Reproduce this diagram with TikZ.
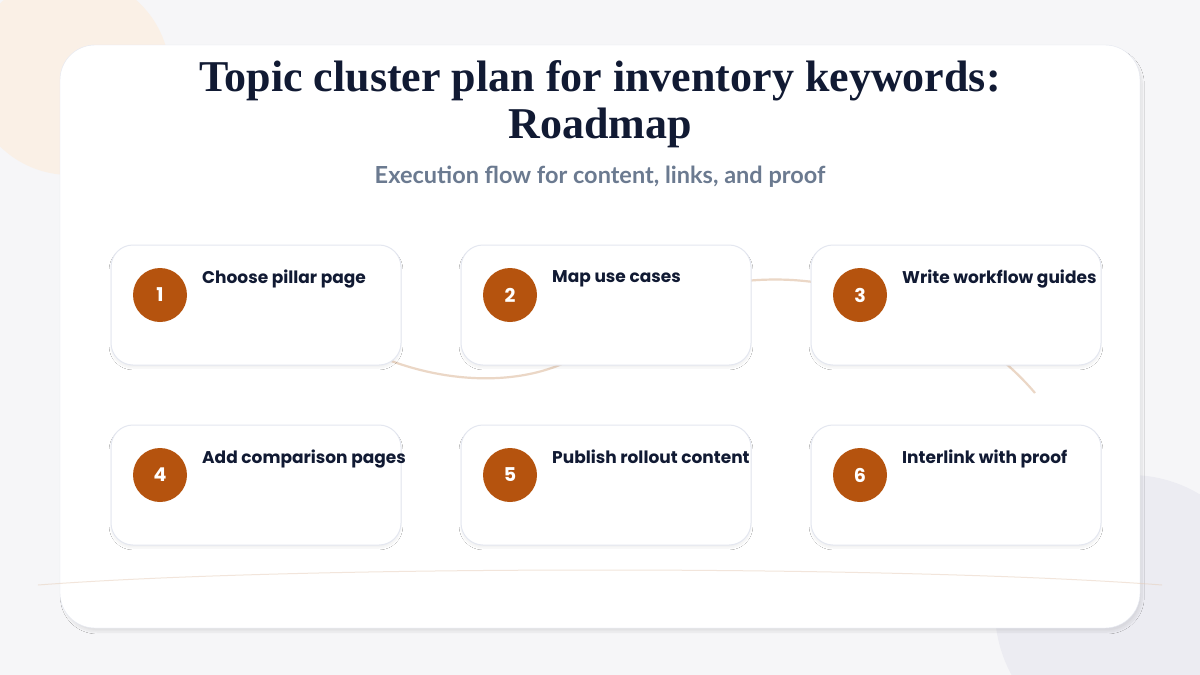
\documentclass[tikz,border=0pt]{standalone}
\usepackage{fontspec}
\setmainfont{Liberation Serif}
\newfontfamily\labfont{Poppins}
\newfontfamily\subfont{Lato}
\usetikzlibrary{shadows.blur}
\definecolor{navy}{HTML}{111A33}
\definecolor{subc}{HTML}{6B7A90}
\definecolor{badge}{HTML}{B5530E}
\definecolor{tan}{HTML}{E6CDB8}
\definecolor{edge}{HTML}{E4E7F0}
\definecolor{bgc}{HTML}{F6F6F8}
\definecolor{peach}{HTML}{FAF0E6}
\definecolor{greyc}{HTML}{ECECF2}
\definecolor{peach2}{HTML}{FAF4EE}
\tikzset{
 box/.style={draw=edge,line width=1pt,fill=white,rounded corners=22pt,minimum width=290pt,minimum height=120pt,blur shadow={shadow blur steps=8,shadow xshift=0pt,shadow yshift=-3pt,shadow opacity=6}},
 num/.style={circle,fill=badge,minimum size=54pt,inner sep=0pt,text=white,font=\labfont\bfseries\fontsize{19}{19}\selectfont},
 lab/.style={anchor=north west,inner sep=0pt,text=navy,font=\labfont\bfseries\fontsize{17}{17}\selectfont},
 conn/.style={draw=tan,line width=2.2pt,opacity=.8}
}
\begin{document}
\begin{tikzpicture}[x=1pt,y=-1pt]
\useasboundingbox (0,0) rectangle (1200,675);
\fill[bgc] (0,0) rectangle (1200,675);
\fill[peach] (70,75) circle (100);
\fill[greyc] (1130,610) circle (135);
\fill[peach2] (960,120) circle (65);
\node[draw=edge,fill=white,rounded corners=35pt,minimum width=1080pt,minimum height=583pt,blur shadow={shadow blur steps=10,shadow yshift=-4pt,shadow opacity=8}] (card) at (600,336.5) {};
\draw[tan,line width=1pt,opacity=.5] (38,585) .. controls (300,565) and (900,565) .. (1162,585);
\node[font=\bfseries\fontsize{44}{47}\selectfont,text=navy,align=center] (title) at (600,104) {Topic cluster plan for inventory keywords:\\Roadmap};
\node[font=\subfont\bfseries\fontsize{23.5}{24}\selectfont,text=subc] (sub) at (600,177) {Execution flow for content, links, and proof};
\coordinate (c0) at (330,330);
\coordinate (c1) at (1035,393);
\draw[conn] (c0) .. controls (420,390) and (540,395) .. (600,340) .. controls (660,285) and (760,270) .. (830,285) .. controls (920,300) and (990,340) .. (c1);
\foreach \i/\x/\y/\t in {1/256/305/Choose pillar page,2/606/305/Map use cases,3/956/305/Write workflow guides,4/256/485/Add comparison pages,5/606/485/Publish rollout content,6/956/485/Interlink with proof}{
 \node[box] (b\i) at (\x,\y) {};
 \node[num] (n\i) at ([xshift=-96pt,yshift=10pt]b\i.center) {\i};
 \node[lab] (l\i) at ([xshift=-54pt,yshift=35pt]b\i.center) {\t};
}
\end{tikzpicture}
\end{document}
